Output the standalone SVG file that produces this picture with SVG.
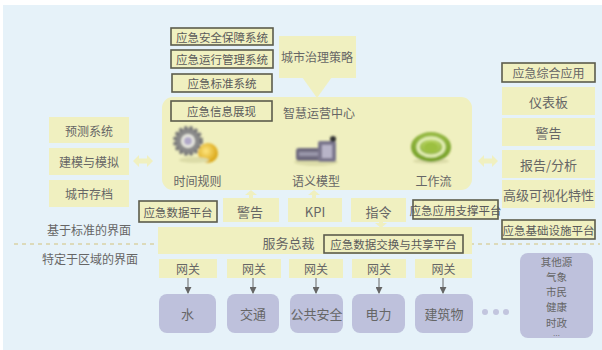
<svg xmlns="http://www.w3.org/2000/svg" width="602" height="350" viewBox="0 0 602 350">
  <defs>
    <style>
      .bg { fill: #E6F2F9; }
      .y { fill: #F0F0C0; }
      .ob { fill: #F0F0C0; stroke: #5C5C4C; stroke-width: 1.6; }
      .pu { fill: #BEC1DC; }
      text { font-family: "Noto Sans CJK SC", "Noto Sans", sans-serif; fill: #666; text-anchor: middle; dominant-baseline: central; }
      .t12 { font-size: 12px; }
      .t13 { font-size: 13px; }
      .t11 { font-size: 11.5px; fill: #5A5A5A; }
      .src { font-size: 10.5px; }
      .more { font-size: 7px; }
      .dash { stroke: #D2C27C; stroke-width: 1; stroke-dasharray: 4 4; fill: none; }
      .gw { stroke: #666; stroke-width: 1; fill: none; }
      .soft { filter: url(#soft); }
    </style>
    <marker id="ah" viewBox="0 0 8 8" refX="7" refY="4" markerWidth="7" markerHeight="7" orient="auto">
      <path d="M0,0 L8,4 L0,8 z" fill="#666"/>
    </marker>
    <filter id="soft" x="-20%" y="-20%" width="140%" height="140%">
      <feGaussianBlur stdDeviation="0.9"/>
    </filter>
    <radialGradient id="gold" cx="0.4" cy="0.4" r="0.6">
      <stop offset="0" stop-color="#FFE680"/>
      <stop offset="1" stop-color="#D9A514"/>
    </radialGradient>
    <radialGradient id="green" cx="0.5" cy="0.4" r="0.6">
      <stop offset="0" stop-color="#C8E070"/>
      <stop offset="1" stop-color="#6E9A20"/>
    </radialGradient>
  </defs>

  <rect class="bg" x="3" y="5" width="599" height="345"/>

  <!-- divider between the two interface layers -->
  <line class="dash" x1="14" y1="244" x2="600" y2="244"/>

  <!-- layer labels -->
  <text class="t12" x="89" y="229">基于标准的界面</text>
  <text class="t12" x="90" y="258">特定于区域的界面</text>

  <!-- top systems -->
  <g id="sys-safety">
    <rect class="ob" x="171" y="28" width="102" height="17"/>
    <text class="t11" x="222" y="36.5">应急安全保障系统</text>
  </g>
  <g id="sys-operation">
    <rect class="ob" x="171" y="50" width="102" height="18"/>
    <text class="t11" x="222" y="59">应急运行管理系统</text>
  </g>
  <g id="sys-standard">
    <rect class="ob" x="172" y="74" width="100" height="18"/>
    <text class="t11" x="222" y="83">应急标准系统</text>
  </g>
  <g id="strategy">
    <rect class="y" x="279" y="36" width="77" height="42"/>
    <polygon class="y" points="302,77 332,77 317,98"/>
    <text class="t12" x="317" y="56">城市治理策略</text>
  </g>

  <!-- operations centre -->
  <g id="ops-center">
    <rect class="y" x="162" y="97" width="310" height="93" rx="11"/>
    <rect class="ob" x="171" y="101" width="101" height="20"/>
    <text class="t11" x="221.5" y="111">应急信息展现</text>
    <text class="t12" x="319" y="112">智慧运营中心</text>

    <!-- gear and coin icon -->
    <g class="soft">
      <circle cx="188" cy="141" r="13" fill="#8A8A8A" stroke="#777" stroke-width="4" stroke-dasharray="3 2.2"/>
      <circle cx="188" cy="141" r="7" fill="#E8E8E0"/>
      <circle cx="188" cy="141" r="4" fill="#B0A8C8"/>
      <circle cx="208" cy="153" r="10" fill="url(#gold)"/>
      <ellipse cx="194" cy="160" rx="15" ry="3" fill="#DCDCA8"/>
    </g>
    <text class="t12" x="197.5" y="180">时间规则</text>

    <!-- semantic model icon -->
    <g class="soft">
      <ellipse cx="316" cy="162" rx="22" ry="4" fill="#DCDCA8"/>
      <rect x="296" y="148" width="30" height="13" rx="3" fill="#6E6A7E"/>
      <rect x="299" y="152" width="22" height="4" fill="#9A96AA"/>
      <rect x="318" y="141" width="18" height="21" rx="2" fill="#7A768C"/>
      <rect x="322" y="145" width="10" height="13" fill="#B8B4C8"/>
      <circle cx="333" cy="139" r="3" fill="#333"/>
    </g>
    <text class="t12" x="316" y="180">语义模型</text>

    <!-- workflow icon: green ring -->
    <g class="soft">
      <ellipse cx="431" cy="161" rx="18" ry="3" fill="#DCDCA8"/>
      <ellipse cx="431" cy="147" rx="20" ry="15" fill="url(#green)"/>
      <ellipse cx="431" cy="147" rx="13" ry="9" fill="none" stroke="#E6F0B8" stroke-width="3"/>
      <ellipse cx="431" cy="147" rx="7" ry="5" fill="#9CC040"/>
    </g>
    <text class="t12" x="433.5" y="180">工作流</text>
  </g>

  <!-- left column -->
  <g id="forecast">
    <rect class="y" x="49" y="117" width="80" height="26"/>
    <text class="t12" x="89" y="130">预测系统</text>
  </g>
  <g id="modeling">
    <rect class="y" x="49" y="148" width="80" height="27"/>
    <text class="t12" x="89" y="161.5">建模与模拟</text>
  </g>
  <g id="archive">
    <rect class="y" x="49" y="180" width="80" height="27"/>
    <text class="t12" x="89" y="193.5">城市存档</text>
  </g>

  <!-- right column -->
  <g id="app-integrated">
    <rect class="ob" x="502" y="63" width="93" height="19"/>
    <text class="t12" x="548.5" y="72.5" fill="#555">应急综合应用</text>
  </g>
  <g id="dashboard">
    <rect class="y" x="502" y="87" width="93" height="28"/>
    <text class="t13" x="548.5" y="101">仪表板</text>
  </g>
  <g id="alert-right">
    <rect class="y" x="502" y="118" width="93" height="28"/>
    <text class="t13" x="548.5" y="132">警告</text>
  </g>
  <g id="report">
    <rect class="y" x="502" y="150" width="93" height="28"/>
    <text class="t13" x="548.5" y="164">报告/分析</text>
  </g>
  <g id="visual">
    <rect class="y" x="502" y="180" width="93" height="28"/>
    <text class="t13" x="548.5" y="194">高级可视化特性</text>
  </g>
  <g id="infra-platform">
    <rect class="ob" x="502" y="220" width="93" height="19"/>
    <text class="t11" x="548.5" y="229.5">应急基础设施平台</text>
  </g>

  <!-- row under the operations centre -->
  <g id="data-platform">
    <rect class="ob" x="139" y="201" width="78" height="21"/>
    <text class="t11" x="178" y="211.5">应急数据平台</text>
  </g>
  <g id="alert">
    <rect class="y" x="223" y="198" width="56" height="24"/>
    <text class="t13" x="250" y="211">警告</text>
  </g>
  <g id="kpi">
    <rect class="y" x="288" y="198" width="54" height="24"/>
    <text class="t13" x="315" y="211">KPI</text>
  </g>
  <g id="command">
    <rect class="y" x="351" y="198" width="55" height="24"/>
    <text class="t13" x="378.5" y="211">指令</text>
  </g>
  <g id="app-support">
    <rect class="ob" x="413" y="200" width="85" height="19"/>
    <text class="t11" x="455.5" y="209.5">应急应用支撑平台</text>
  </g>

  <!-- service bus -->
  <g id="service-bus">
    <rect class="y" x="158" y="227" width="314" height="27"/>
    <text class="t13" x="288.5" y="242">服务总裁</text>
    <rect class="ob" x="324" y="235" width="139" height="18"/>
    <text class="t11" x="393.5" y="244">应急数据交换与共享平台</text>
  </g>

  <!-- gateways -->
  <g id="gw-1"><rect class="y" x="159" y="259" width="58" height="19"/><text class="t12" x="188" y="268.5">网关</text></g>
  <g id="gw-2"><rect class="y" x="227" y="259" width="54" height="19"/><text class="t12" x="254" y="268.5">网关</text></g>
  <g id="gw-3"><rect class="y" x="289" y="259" width="54" height="19"/><text class="t12" x="316" y="268.5">网关</text></g>
  <g id="gw-4"><rect class="y" x="352" y="259" width="54" height="19"/><text class="t12" x="379" y="268.5">网关</text></g>
  <g id="gw-5"><rect class="y" x="415" y="259" width="57" height="19"/><text class="t12" x="443.5" y="268.5">网关</text></g>

  <!-- domains -->
  <g id="water"><rect class="pu" x="159" y="294" width="57" height="39" rx="8"/><text class="t13" x="187.5" y="313.5">水</text></g>
  <g id="traffic"><rect class="pu" x="227" y="294" width="52" height="39" rx="8"/><text class="t13" x="253" y="313.5">交通</text></g>
  <g id="public-safety"><rect class="pu" x="290" y="294" width="53" height="39" rx="8"/><text class="t13" x="316.5" y="313.5">公共安全</text></g>
  <g id="power"><rect class="pu" x="352" y="294" width="53" height="39" rx="8"/><text class="t13" x="378.5" y="313.5">电力</text></g>
  <g id="building"><rect class="pu" x="415" y="294" width="58" height="39" rx="8"/><text class="t13" x="444" y="313.5">建筑物</text></g>

  <g id="ellipsis-dots" fill="#C2C5DE">
    <circle cx="485" cy="312" r="3"/>
    <circle cx="496" cy="312" r="3"/>
    <circle cx="506" cy="312" r="3"/>
  </g>

  <g id="other-sources">
    <rect class="pu" x="520" y="253" width="73" height="85" rx="8"/>
    <text class="src" x="556.5" y="261">其他源</text>
    <text class="src" x="556.5" y="276.3">气象</text>
    <text class="src" x="556.5" y="291.6">市民</text>
    <text class="src" x="556.5" y="306.9">健康</text>
    <text class="src" x="556.5" y="322.2">时政</text>
    <text class="more" x="556.5" y="334.8">…</text>
  </g>

  <!-- connectors -->
  <g id="connectors">
    <!-- two-way links to the side columns -->
    <polygon fill="#F0F0C0" points="133,161 139,155 139,158.5 147,158.5 147,155 153,161 147,167 147,163.5 139,163.5 139,167"/>
    <polygon fill="#F0F0C0" points="478,161 484,155 484,158.5 492,158.5 492,155 498,161 492,167 492,163.5 484,163.5 484,167"/>
    <!-- upward links into the operations centre -->
    <polygon fill="#F0F0C0" points="251,190 257,195 253,195 253,199 249,199 249,195 245,195"/>
    <polygon fill="#F0F0C0" points="314,190 320,195 316,195 316,199 312,199 312,195 308,195"/>
    <!-- command down to the service bus -->
    <polygon fill="#F0F0C0" points="381,228 387,223 383,223 383,221 379,221 379,223 375,223"/>
    <!-- gateway to domain arrows -->
    <line class="gw" x1="188" y1="278" x2="188" y2="293" marker-end="url(#ah)"/>
    <line class="gw" x1="253" y1="278" x2="253" y2="293" marker-end="url(#ah)"/>
    <line class="gw" x1="316" y1="278" x2="316" y2="293" marker-end="url(#ah)"/>
    <line class="gw" x1="379" y1="278" x2="379" y2="293" marker-end="url(#ah)"/>
    <line class="gw" x1="443" y1="278" x2="443" y2="293" marker-end="url(#ah)"/>
  </g>
</svg>
